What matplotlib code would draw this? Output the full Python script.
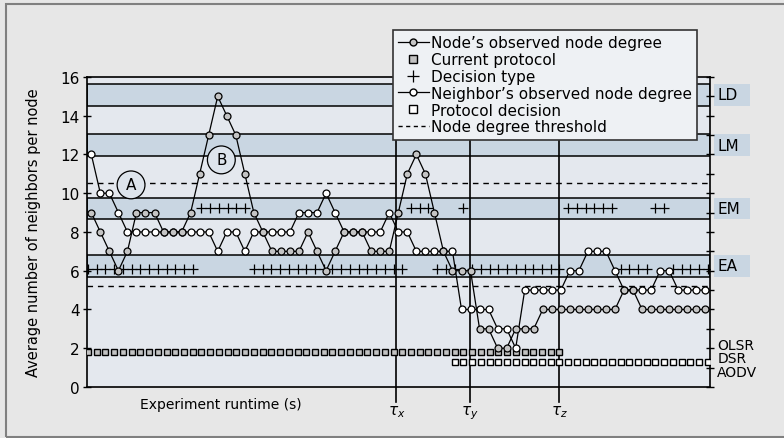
import numpy as np
import matplotlib
matplotlib.use("Agg")
import matplotlib.pyplot as plt
from matplotlib.patches import Rectangle
from matplotlib.ticker import MultipleLocator
import matplotlib.transforms as mtransforms

# node degree samples (one per time step)
node_deg = [9, 8, 7, 6, 7, 9, 9, 9, 8, 8, 8, 9, 11, 13,
            15, 14, 13, 11, 9, 8, 7, 7, 7, 7, 8, 7, 6, 7,
            8, 8, 8, 7, 7, 7, 9, 11, 12, 11, 9, 7, 6, 6, 6,
            3, 3, 2, 2, 3, 3, 3, 4, 4, 4, 4, 4, 4, 4, 4, 4,
            5, 5, 4, 4, 4, 4, 4, 4, 4, 4]
nbr_deg = [12, 10, 10, 9, 8, 8, 8, 8, 8, 8, 8, 8, 8, 8,
           7, 8, 8, 7, 8, 8, 8, 8, 8, 9, 9, 9, 10, 9,
           8, 8, 8, 8, 8, 9, 8, 8, 7, 7, 7, 7, 7,
           4, 4, 4, 4, 3, 3, 2, 5, 5, 5, 5, 5, 6, 6,
           7, 7, 7, 6, 5, 5, 5, 5, 6, 6, 5, 5, 5, 5]
t_deg = np.arange(len(node_deg))

# decisions (slightly denser sampling than degree samples)
decision_runs = [("EA", 13), ("EM", 6), ("EA", 18), ("EM", 3), ("EA", 3), ("EM", 1),
                 ("EA", 11), ("EM", 6), ("EA", 4), ("EM", 2), ("EA", 5)]
decision_type = [lab for lab, n in decision_runs for _ in range(n)]
t_dec = np.arange(len(decision_type)) * 0.967 - 0.37
current_protocol = ["OLSR"] * 55          # decisions 0..54
protocol_decision = ["DSR"] * 30          # decisions 42..71
first_decision = 42

bands = {"LD": (14.5, 15.65), "LM": (11.9, 13.05), "EM": (8.65, 9.75), "EA": (5.7, 6.8)}
type_y = {"EA": 6.1, "EM": 9.25}
proto_y = {"OLSR": 1.8, "DSR": 1.3, "AODV": 0.8}
proto_label_y = {"OLSR": 2.18, "DSR": 1.5, "AODV": 0.76}
thresholds = [10.53, 5.23]
taus = {r"$\tau_x$": 33.8, r"$\tau_y$": 41.9, r"$\tau_z$": 51.8}

band_c = "#c9d6e2"
fig = plt.figure(figsize=(7.84, 4.39), dpi=100, facecolor="#e7e7e7")
ax = fig.add_axes([0.1106, 0.1162, 0.795, 0.7062])
ax.set_facecolor("#e4e8ee")

for lab, (lo, hi) in bands.items():
    ax.axhspan(lo, hi, facecolor=band_c, edgecolor="black", lw=1.1, zorder=1)
for th in thresholds:
    ax.axhline(th, color="black", lw=1, ls=(0, (4, 3.5)), zorder=2)

for lab, t in taus.items():
    ax.plot([t, t], [-0.78, 16], color="black", lw=1.2, clip_on=False, zorder=3)
    ax.text(t, -0.85, lab, ha="center", va="top", fontsize=11)

ax.plot(t_dec, [type_y[d] for d in decision_type], "+", color="black", ms=7, mew=0.9,
        ls="none", zorder=4)
ax.plot(t_dec[:len(current_protocol)], [proto_y[p] for p in current_protocol], "s",
        mfc="#c2c2c2", mec="black", ms=5, mew=1, ls="none", zorder=4)
ax.plot(t_dec[first_decision:first_decision + len(protocol_decision)],
        [proto_y[p] for p in protocol_decision], "s",
        mfc="white", mec="black", ms=5, mew=1, ls="none", zorder=4)

ax.plot(t_deg, nbr_deg, "-o", color="black", mfc="white", mec="black", ms=5, lw=0.9,
        mew=0.9, zorder=5)
ax.plot(t_deg, node_deg, "-o", color="black", mfc="#c4c4c4", mec="black", ms=5, lw=0.9,
        mew=0.9, zorder=6)

# circled annotations
for lab, (x, y) in {"A": (4.4, 10.43), "B": (14.4, 11.72)}.items():
    ax.text(x, y, lab, ha="center", va="center", fontsize=11, zorder=7,
            bbox=dict(boxstyle="circle,pad=0.42", fc="#dde4ec", ec="black", lw=0.9))

ax.set_xlim(-0.51, 68.52)
ax.set_ylim(0, 16)
ax.set_xticks([])
ax.set_yticks(range(0, 17, 2))
ax.yaxis.set_minor_locator(MultipleLocator(1))
ax.tick_params(axis="y", which="major", direction="inout", length=6, width=1, labelsize=11,
               right=True, pad=2)
ax.tick_params(axis="y", which="minor", direction="inout", length=6, width=1, left=False, right=True)
for s in ax.spines.values():
    s.set_linewidth(1.2)
ax.set_ylabel("Average number of neighbors per node", fontsize=10.5)
ax.yaxis.set_label_coords(-0.073, 0.5)
ax.text(14.3, -0.9, "Experiment runtime (s)", ha="center", va="center", fontsize=10)

trans = mtransforms.blended_transform_factory(ax.transAxes, ax.transData)
for lab, (lo, hi) in bands.items():
    ax.add_patch(Rectangle((1.0064, lo), 0.058, hi - lo, transform=trans, fc=band_c,
                           ec="none", clip_on=False))
    ax.text(1.0115, (lo + hi) / 2, lab, transform=trans, ha="left", va="center", fontsize=11)
for lab, y in proto_label_y.items():
    ax.text(1.0115, y, lab, transform=trans, ha="left", va="center", fontsize=10)

# legend
h_node = plt.Line2D([], [], color="black", marker="o", mfc="#c4c4c4", mec="black", ms=5, lw=0.9)
h_cur = plt.Line2D([], [], ls="none", marker="s", mfc="#c2c2c2", mec="black", ms=5.5)
h_dec = plt.Line2D([], [], ls="none", marker="+", color="black", ms=8, mew=0.9)
h_nbr = plt.Line2D([], [], color="black", marker="o", mfc="white", mec="black", ms=5, lw=0.9)
h_pd = plt.Line2D([], [], ls="none", marker="s", mfc="white", mec="black", ms=5.5)
h_th = plt.Line2D([], [], color="black", lw=1, ls=(0, (3, 2.5)))
leg = ax.legend([h_node, h_cur, h_dec, h_nbr, h_pd, h_th],
                ["Node’s observed node degree", "Current protocol", "Decision type",
                 "Neighbor’s observed node degree", "Protocol decision", "Node degree threshold"],
                loc="upper left", bbox_to_anchor=(0.491, 1.152), borderaxespad=0,
                fontsize=11, fancybox=False, edgecolor="#333333", facecolor="#eef1f4",
                framealpha=1, handlelength=2.0, handletextpad=0.15, borderpad=0.35,
                labelspacing=0.12)
leg.get_frame().set_linewidth(1.2)
leg.set_zorder(10)

fig.add_artist(Rectangle((0.0077, 0.0023), 1.0, 0.9863, transform=fig.transFigure,
                         fill=False, ec="#808080", lw=1.5))

fig.savefig("out.png", dpi=100, facecolor=fig.get_facecolor())
